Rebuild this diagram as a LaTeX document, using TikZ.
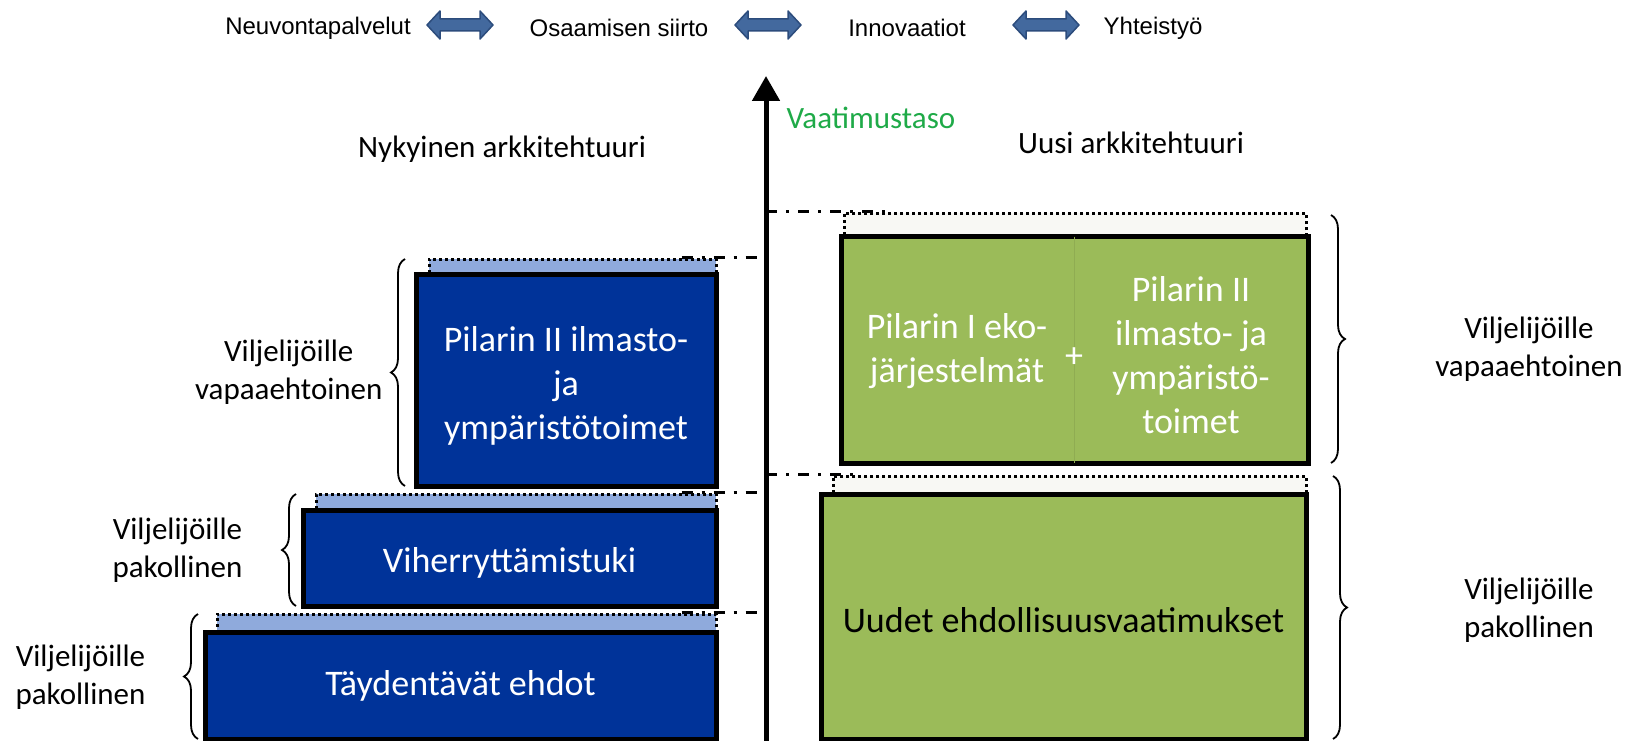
\documentclass[tikz,border=0pt]{standalone}
\usepackage{fontspec}
\setmainfont{Carlito}
\newfontfamily\arialfont{Liberation Sans}
\usepackage{tikz}
\usetikzlibrary{positioning,arrows.meta,decorations.pathreplacing}

\definecolor{PillarBlue}{HTML}{003399}
\definecolor{StripBlue}{HTML}{8FAADC}
\definecolor{LeafGreen}{HTML}{9BBB59}
\definecolor{StripWhite}{HTML}{F8F8F4}
\definecolor{LevelGreen}{HTML}{1FAA48}
\definecolor{LinkBlue}{HTML}{43699E}
\definecolor{LinkEdge}{HTML}{2C4C7C}

\begin{document}
\begin{tikzpicture}[x=1pt, y=-1pt,
	font=\fontsize{31}{38}\selectfont,
	toptext/.style={font=\arialfont\fontsize{24}{28}\selectfont},
	duoarrow/.pic={
		\draw [draw=LinkEdge, fill=LinkBlue, line width=1.5pt, line join=round]
			(-33,0) -- (-20,-14) -- (-20,-6) -- (20,-6) -- (20,-14) -- (33,0)
			-- (20,14) -- (20,6) -- (-20,6) -- (-20,14) -- cycle;
	},
	bluebox/.style={draw, line width=5pt, fill=PillarBlue, text=white, align=center,
		font=\fontsize{36}{43}\selectfont, inner sep=0pt},
	greenbox/.style={draw, line width=5pt, fill=LeafGreen, align=center,
		font=\fontsize{36}{43}\selectfont, inner sep=0pt},
	bluestrip/.style={draw, dash pattern=on 3pt off 3pt, line width=3pt, fill=StripBlue, inner sep=0pt},
	whitestrip/.style={draw, dash pattern=on 3pt off 3pt, line width=3pt, fill=StripWhite, inner sep=0pt},
	boxtext/.style={align=center, text=white, font=\fontsize{36}{44}\selectfont},
	sidetext/.style={align=center},
	sidebrace/.style={decorate, decoration={brace, amplitude=14pt}, line width=1.8pt},
	levelline/.style={line width=3pt, dash pattern=on 11pt off 9pt on 3pt off 9pt}]

	\useasboundingbox (0,0) rectangle (1631,741);

	% top row
	\node [toptext] (advice) at (318,28) {Neuvontapalvelut};
	\pic (linkA) at (460,25) {duoarrow};
	\node [toptext] (transfer) at (619,28) {Osaamisen siirto};
	\pic (linkB) at (768,25) {duoarrow};
	\node [toptext] (innov) at (907,28) {Innovaatiot};
	\pic (linkC) at (1046,25) {duoarrow};
	\node [toptext] (coop) at (1153,28) {Yhteistyö};

	% axis
	\coordinate (axisbot) at (766,741);
	\coordinate (axistop) at (766,76);
	\draw [line width=5pt, -{Triangle[width=27pt,length=25pt]}] (axisbot) -- (axistop);
	\node [text=LevelGreen, anchor=west] (level) at (783,118) {Vaatimustaso};
	\node (oldarch) at (502,149) {Nykyinen arkkitehtuuri};
	\node (newarch) at (1131,143) {Uusi arkkitehtuuri};

	% current architecture
	\node [bluestrip, minimum width=287pt, minimum height=15pt] (strip1) at (572.5,266.5) {};
	\node [bluestrip, minimum width=400pt, minimum height=16pt] (strip2) at (516,502) {};
	\node [bluestrip, minimum width=499pt, minimum height=18pt] (strip3) at (466.5,623) {};
	\node [bluebox, minimum width=300pt, minimum height=212pt] (pillar) at (566,380) {};
	\node [boxtext] (pillartext) at (566,386) {Pilarin II ilmasto-\\ja\\ympäristötoimet};
	\node [bluebox, minimum width=413pt, minimum height=96pt] (greening) at (509.5,558) {};
	\node [boxtext] (greeningtext) at (509.5,563) {Viherryttämistuki};
	\node [bluebox, minimum width=511pt, minimum height=107pt] (cross) at (460.5,685.5)
		{Täydentävät ehdot};

	\draw [levelline] ([xshift=-36pt]strip1.north east) -- (strip1.north -| axistop);
	\draw [levelline] ([xshift=-36pt]strip2.north east) -- (strip2.north -| axistop);
	\draw [levelline] ([xshift=-36pt]strip3.north east) -- (strip3.north -| axistop);

	\draw [sidebrace] (405,486) -- (405,259);
	\draw [sidebrace] (296,606) -- (296,494);
	\draw [sidebrace] (198,739) -- (198,614);
	\coordinate (tip1) at (386,372);
	\coordinate (tip2) at (277,550);
	\coordinate (tip3) at (179,677);
	\node [sidetext, left=0pt of tip1] (vol1) {Viljelijöille\\vapaaehtoinen};
	\node [sidetext, left=31pt of tip2] (obl1) {Viljelijöille\\pakollinen};
	\node [sidetext, left=30pt of tip3] (obl2) {Viljelijöille\\pakollinen};

	% new architecture
	\node [whitestrip, minimum width=462pt, minimum height=23pt] (rstrip1) at (1075,224.5) {};
	\node [whitestrip, minimum width=473pt, minimum height=18pt] (rstrip2) at (1069.5,485) {};
	\node [greenbox, minimum width=467pt, minimum height=227pt] (eco) at (1074.5,349.5) {};
	\draw [LeafGreen!92!black, line width=0.6pt] ([yshift=-3pt]eco.north) -- ([yshift=3pt]eco.south);
	\node [boxtext] (ecoleft) at (957,351) {Pilarin I eko-\\järjestelmät};
	\node [boxtext] (plus) at (1074,358) {+};
	\node [boxtext] (ecoright) at (1191,355) {Pilarin II\\ilmasto- ja\\ympäristö-\\toimet};
	\node [greenbox, minimum width=485pt, minimum height=245pt] (newcond) at (1063.5,616.5) {};
	\node [boxtext, text=black] (newcondtext) at (1063.5,620) {Uudet ehdollisuusvaatimukset};

	\draw [levelline] (rstrip1.north -| axistop) -- ([xshift=45pt]rstrip1.north west);
	\draw [levelline] (rstrip2.north -| axistop) -- ([xshift=25pt]rstrip2.north west);

	\draw [sidebrace] (1331,215) -- (1331,463);
	\draw [sidebrace] (1333,476) -- (1333,739);
	\node [sidetext] (vol2) at (1529,349) {Viljelijöille\\vapaaehtoinen};
	\node [sidetext] (obl3) at (1529,610) {Viljelijöille\\pakollinen};

\end{tikzpicture}
\end{document}
